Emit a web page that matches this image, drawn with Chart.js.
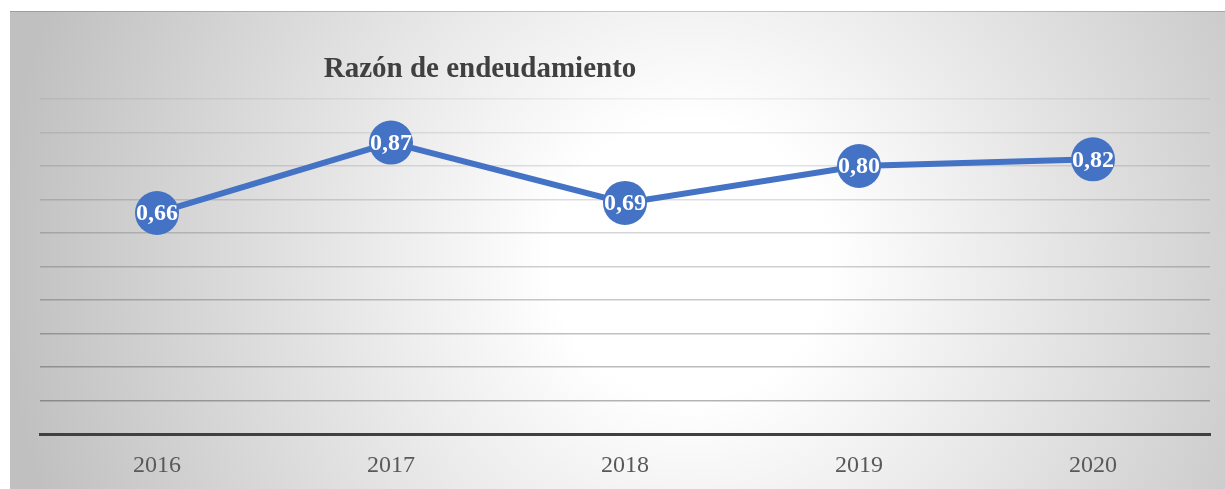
<!DOCTYPE html>
<html>
<head>
<meta charset="utf-8">
<script src="https://cdn.jsdelivr.net/npm/chart.js@4"></script>
<style>
  html, body { margin: 0; padding: 0; background: #fff; overflow: hidden; }
  #wrap { width: 1225px; height: 489px; position: relative; }
</style>
</head>
<body>
<div id="wrap"><canvas id="ratioChart"></canvas></div>
<script>
var years = ['2016', '2017', '2018', '2019', '2020'];
var ratios = [0.66, 0.87, 0.69, 0.80, 0.82];
var chartTitle = 'Razón de endeudamiento';

// grey panel behind the chart, white in the middle
const panelBackground = {
    id: 'panelBackground',
    beforeDraw(chart) {
        const ctx = chart.ctx;
        ctx.save();
        const g = ctx.createRadialGradient(690, 260, 0, 690, 260, 690);
        g.addColorStop(0, '#ffffff');
        g.addColorStop(0.2, '#ffffff');
        g.addColorStop(1, '#c0c0c0');
        ctx.fillStyle = g;
        ctx.fillRect(10, 11, 1215, 478);
        ctx.fillStyle = 'rgba(0,0,0,0.18)';
        ctx.fillRect(10, 11, 1215, 1);
        ctx.restore();
    }
};

const titleAndLabels = {
    id: 'titleAndLabels',
    afterDatasetsDraw(chart) {
        const ctx = chart.ctx;
        ctx.save();
        ctx.fillStyle = '#404040';
        ctx.font = 'bold 29px "Liberation Serif", "Times New Roman", serif';
        ctx.textAlign = 'center';
        ctx.textBaseline = 'middle';
        ctx.fillText(chartTitle, 480, 70);

        ctx.fillStyle = '#ffffff';
        ctx.font = 'bold 24px "Liberation Serif", "Times New Roman", serif';
        chart.getDatasetMeta(0).data.forEach((pt, i) => {
            ctx.fillText(ratios[i].toFixed(2).replace('.', ','), pt.x, pt.y + 1);
        });
        ctx.restore();
    }
};

const ratioConfig = {
    type: 'line',
    data: {
        labels: years,
        datasets: [
            {
                label: chartTitle,
                data: ratios,
                borderColor: '#4472C4',
                backgroundColor: '#4472C4',
                borderWidth: 6,
                tension: 0,
                clip: false,
                pointRadius: 22,
                pointHoverRadius: 22,
                pointBackgroundColor: '#4472C4',
                pointBorderColor: '#4472C4',
                pointBorderWidth: 0
            }
        ]
    },
    options: {
        responsive: true,
        maintainAspectRatio: false,
        animation: false,
        layout: { autoPadding: false, padding: { left: 40, right: 15, top: 99, bottom: -8 } },
        plugins: {
            legend: { display: false },
            title: { display: false },
            tooltip: { enabled: false }
        },
        scales: {
            x: {
                offset: true,
                grid: { display: false, drawTicks: false },
                border: { display: true, color: '#404040', width: 3 },
                ticks: {
                    color: '#595959',
                    padding: 17,
                    font: { family: '"Liberation Serif", "Times New Roman", serif', size: 24 }
                }
            },
            y: {
                min: 0,
                max: 1,
                ticks: { display: false, stepSize: 0.1 },
                border: { display: false },
                grid: {
                    drawTicks: false,
                    lineWidth: 1.5,
                    color: (c) => {
                        const v = c.tick ? c.tick.value : 0;
                        const a = 0.32 - v * 0.26;
                        return 'rgba(0,0,0,' + a.toFixed(3) + ')';
                    }
                }
            }
        }
    },
    plugins: [panelBackground, titleAndLabels]
};

const ratioChart = new Chart(document.getElementById('ratioChart'), ratioConfig);
</script>
</body>
</html>
